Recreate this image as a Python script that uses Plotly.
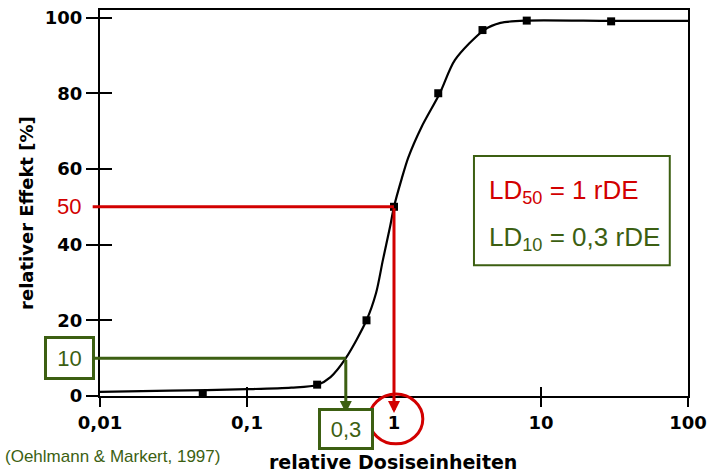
import numpy as np
import plotly.graph_objects as go

# ---- data ----
dose = [0.05, 0.3, 0.65, 1.0, 2.0, 4.0, 8.0, 30.0]
effect = [0.5, 3.0, 20.0, 50.0, 80.0, 96.7, 99.2, 99.0]

curve_dose = [0.01, 0.03, 0.1, 0.2, 0.3, 0.37, 0.47, 0.65, 0.755, 0.84, 0.94,
              1.0, 1.13, 1.25, 1.54, 2.05, 2.6, 4.1, 5.3, 8.1, 30.0, 100.0]
curve_effect = [1.1, 1.4, 1.8, 2.2, 2.9, 5.0, 10.0, 20.0, 27.2, 35.9, 44.7,
                50.0, 57.5, 63.0, 71.1, 80.0, 88.8, 96.7, 98.6, 99.2, 99.1, 99.1]

x_tickvals = [0.01, 0.1, 1, 10, 100]
x_ticktext = ["0,01", "0,1", "1", "10", "100"]
y_tickvals = [0, 20, 40, 60, 80, 100]

ld50_dose, ld50_effect = 1.0, 50.0
ld10_dose, ld10_effect = 0.47, 10.0
ld10_label = "0,3"

RED = "#d20000"
GREEN = "#3c5f12"
BLACK = "black"

fig = go.Figure()
fig.add_trace(go.Scatter(x=curve_dose, y=curve_effect, mode="lines",
                         line=dict(color=BLACK, width=2.2, shape="spline", smoothing=0.8),
                         hoverinfo="skip"))
fig.add_trace(go.Scatter(x=dose, y=effect, mode="markers",
                         marker=dict(symbol="square", size=8, color=BLACK)))
# invisible trace to activate overlay axes (inner tick halves)
fig.add_trace(go.Scatter(x=[1], y=[50], mode="markers", marker=dict(opacity=0),
                         xaxis="x2", yaxis="y2", hoverinfo="skip"))

tickfont = dict(family="DejaVu Sans", size=18, color=BLACK, weight="bold")
xr = [np.log10(0.01), np.log10(100)]
yr = [0, 102]

fig.update_layout(
    width=709, height=473,
    margin=dict(l=100, r=21, t=10, b=77, autoexpand=False),
    plot_bgcolor="white", paper_bgcolor="white",
    showlegend=False,
    xaxis=dict(type="log", range=xr, tickvals=x_tickvals, ticktext=x_ticktext,
               ticks="outside", ticklen=9, tickwidth=1.5, tickcolor=BLACK,
               showline=True, linewidth=2, linecolor=BLACK, mirror=True,
               showgrid=False, zeroline=False, tickfont=tickfont,
               ticklabelstandoff=0, automargin=False),
    yaxis=dict(range=yr, tickvals=y_tickvals, ticks="outside", ticklen=12,
               tickwidth=1.5, tickcolor=BLACK, showline=True, linewidth=2,
               linecolor=BLACK, mirror=True, showgrid=False, zeroline=False,
               tickfont=tickfont, automargin=False),
    xaxis2=dict(type="log", range=xr, overlaying="x", side="bottom",
                tickvals=x_tickvals, ticks="inside", ticklen=9, tickwidth=1.5,
                tickcolor=BLACK, showticklabels=False, showline=False,
                showgrid=False, zeroline=False, automargin=False),
    yaxis2=dict(range=yr, overlaying="y", side="left", tickvals=y_tickvals,
                ticks="inside", ticklen=12, tickwidth=1.5, tickcolor=BLACK,
                showticklabels=False, showline=False, showgrid=False,
                zeroline=False, automargin=False),
)

lx50 = np.log10(ld50_dose)
lx10 = np.log10(ld10_dose)
left_edge = xr[0] - 0.06
below = -4.5

ann = []
# red LD50 guide lines
ann.append(dict(x=lx50, y=ld50_effect, xref="x", yref="y", ax=left_edge, ay=ld50_effect,
                axref="x", ayref="y", text="", showarrow=True, arrowhead=0,
                arrowwidth=3, arrowcolor=RED, standoff=0))
ann.append(dict(x=lx50, y=below, xref="x", yref="y", ax=lx50, ay=ld50_effect,
                axref="x", ayref="y", text="", showarrow=True, arrowhead=2,
                arrowsize=0.8, arrowwidth=3, arrowcolor=RED, standoff=0))
# green LD10 guide lines
ann.append(dict(x=lx10, y=ld10_effect, xref="x", yref="y", ax=left_edge, ay=ld10_effect,
                axref="x", ayref="y", text="", showarrow=True, arrowhead=0,
                arrowwidth=3, arrowcolor=GREEN, standoff=0))
ann.append(dict(x=lx10, y=below, xref="x", yref="y", ax=lx10, ay=ld10_effect,
                axref="x", ayref="y", text="", showarrow=True, arrowhead=2,
                arrowsize=0.8, arrowwidth=3, arrowcolor=GREEN, standoff=0))
# labels
ann.append(dict(x=-0.029, y=ld50_effect, xref="paper", yref="y", xanchor="right",
                yanchor="middle", text="50", showarrow=False,
                font=dict(family="Liberation Sans", size=22, color=RED)))
ann.append(dict(x=-0.052, y=ld10_effect, xref="paper", yref="y", xanchor="center",
                yanchor="middle", text="10", showarrow=False, width=45, height=38,
                bordercolor=GREEN, borderwidth=3, borderpad=0, bgcolor="white",
                font=dict(family="Liberation Sans", size=22, color=GREEN)))
ann.append(dict(x=lx10, y=-0.0855, xref="x", yref="paper", xanchor="center",
                yanchor="middle", text=ld10_label, showarrow=False, width=50, height=36,
                bordercolor=GREEN, borderwidth=3, borderpad=0, bgcolor="white",
                font=dict(family="Liberation Sans", size=22, color=GREEN)))
# legend text
ann.append(dict(x=0.658, y=0.531, xref="paper", yref="paper", xanchor="left",
                yanchor="middle", text="LD<sub>50</sub> = 1 rDE", showarrow=False,
                font=dict(family="Liberation Sans", size=26, color=RED)))
ann.append(dict(x=0.658, y=0.407, xref="paper", yref="paper", xanchor="left",
                yanchor="middle", text="LD<sub>10</sub> = 0,3 rDE", showarrow=False,
                font=dict(family="Liberation Sans", size=26, color=GREEN)))
# axis titles
ann.append(dict(x=-0.126, y=0.474, xref="paper", yref="paper", xanchor="center",
                yanchor="middle", textangle=-90, text="relativer Effekt [%]",
                showarrow=False,
                font=dict(family="DejaVu Sans", size=18, color=BLACK, weight="bold")))
ann.append(dict(x=0.498, y=-0.171, xref="paper", yref="paper", xanchor="center",
                yanchor="middle", text="relative Dosiseinheiten", showarrow=False,
                font=dict(family="DejaVu Sans", size=19, color=BLACK, weight="bold")))
# source
ann.append(dict(x=0.2075, y=-0.158, xref="paper", yref="paper", xanchor="right",
                yanchor="middle", text="(Oehlmann & Markert, 1997)", showarrow=False,
                font=dict(family="Liberation Sans", size=17, color=GREEN)))

fig.update_layout(annotations=ann)

fig.update_layout(shapes=[
    dict(type="rect", xref="paper", yref="paper", x0=0.636, x1=0.969, y0=0.339, y1=0.622,
         line=dict(color=GREEN, width=2), fillcolor="rgba(0,0,0,0)"),
    dict(type="circle", xref="paper", yref="paper", x0=0.4575, x1=0.549, y0=-0.124, y1=0.005,
         line=dict(color=RED, width=3)),
])

fig.write_html("out.html", config={"displayModeBar": False},
               post_script="document.body.style.margin='0';document.body.style.overflow='hidden';")
